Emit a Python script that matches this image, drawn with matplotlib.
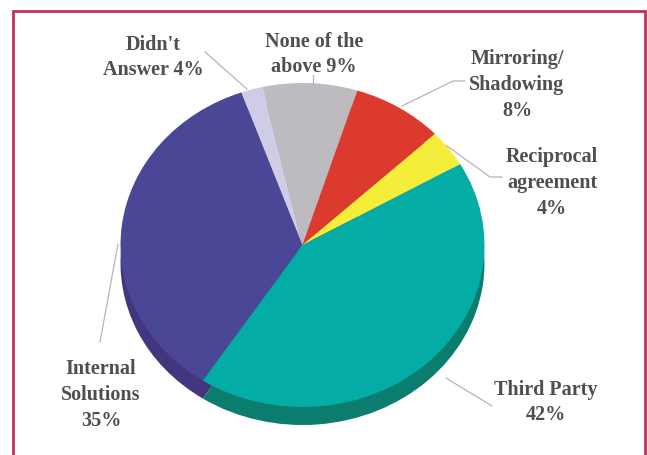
import matplotlib
matplotlib.use("Agg")
import matplotlib.pyplot as plt

# drawn slice sizes differ a bit from the printed percentages (Didn't Answer says 4%)
slices = ["Internal Solutions", "Didn't Answer", "None of the above", "Mirroring/Shadowing", "Reciprocal agreement", "Third Party"]
drawn_shares = [35.3, 1.9, 8.4, 8.1, 3.7, 42.5]
top_colors = ["#4a4896", "#cfcde6", "#bdbbc0", "#dd3a2f", "#f4ee3a", "#03ada6"]
side_colors = ["#43367f", "#9d9bb5", "#8f8d92", "#a52b24", "#b8b22c", "#0b7d6e"]

labels = ["Didn't\nAnswer 4%", "None of the\nabove 9%", "Mirroring/\nShadowing\n8%",
          "Reciprocal\nagreement\n4%", "Third Party\n42%", "Internal\nSolutions\n35%"]
label_x = [153, 314, 517, 552, 546, 101]
label_y = [57.5, 54.5, 85, 183, 402.5, 395]

leaders_x = [[205, 247], [313, 313], [465, 453, 402], [502, 490, 447], [446, 492], [100, 118]]
leaders_y = [[53, 90], [76, 85], [82, 82, 107], [178, 178, 147], [379, 407], [343, 245]]

W, H = 647, 456
cx, cy, rx, ry, depth = 302.5, 246, 182, 162, 18

fig = plt.figure(figsize=(W / 100, H / 100), dpi=100, facecolor="white")

pie_ax = fig.add_axes([(cx - rx) / W, (H - cy - ry) / H, 2 * rx / W, 2 * ry / H])
pie_ax.pie(drawn_shares, colors=side_colors, startangle=236.8, counterclock=False,
           center=(0, -depth / ry), radius=1, frame=True,
           wedgeprops={"clip_on": False, "linewidth": 0})
pie_ax.pie(drawn_shares, colors=top_colors, startangle=236.8, counterclock=False,
           center=(0, 0), radius=1, frame=True,
           wedgeprops={"clip_on": False, "linewidth": 0})
pie_ax.set_aspect("auto")
pie_ax.set_xlim(-1, 1)
pie_ax.set_ylim(-1, 1)
pie_ax.axis("off")

ax = fig.add_axes([0, 0, 1, 1])
ax.set_xlim(0, W)
ax.set_ylim(H, 0)
ax.axis("off")
ax.patch.set_alpha(0)

# frame, open at the bottom
ax.plot([13, 13, 645, 645], [H, 11.5, 11.5, H], color="#c4305f", lw=2.0, solid_joinstyle="miter")

for xs, ys in zip(leaders_x, leaders_y):
    ax.plot(xs, ys, color="#b5b5b5", lw=0.9)

for t, x, y in zip(labels, label_x, label_y):
    ax.text(x, y, t, ha="center", va="center", family="Liberation Serif", weight="bold",
            fontsize=14.5, color="#4f4f4f", linespacing=1.37)

fig.savefig("out.png", dpi=100)
